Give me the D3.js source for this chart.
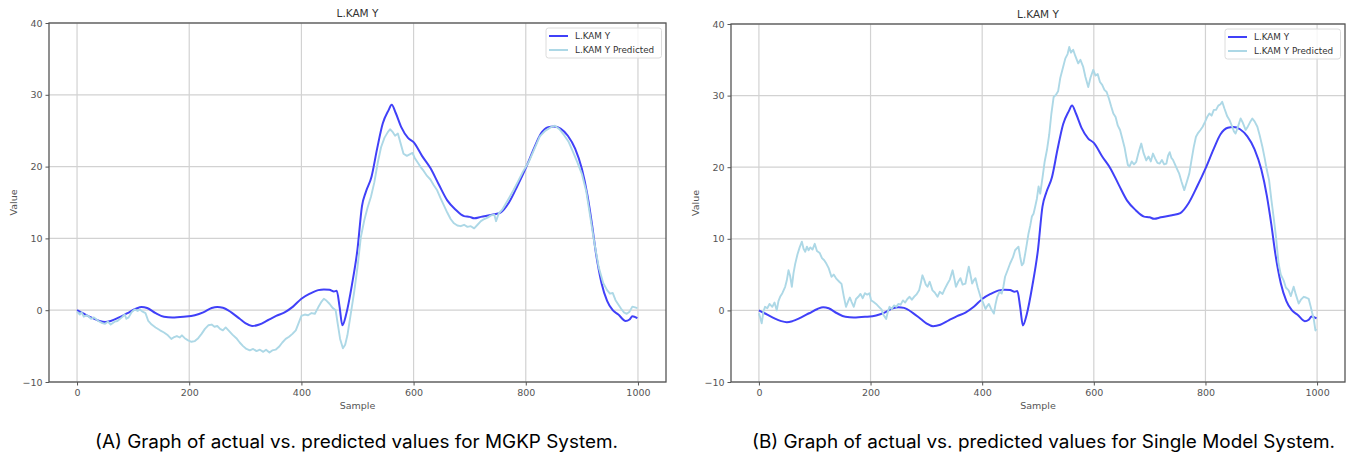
<!DOCTYPE html>
<html><head><meta charset="utf-8">
<script src="https://cdn.jsdelivr.net/npm/d3@7"></script>
<style>
html,body{margin:0;padding:0;background:#fff;}
svg{display:block;}
</style></head>
<body>
<svg id="chart" width="1350" height="455"></svg>
<script>
// ---------- DATA ----------
const chartTitle = "L.KAM Y";
const seriesNames = ["L.KAM Y", "L.KAM Y Predicted"];
const captions = [
  "(A) Graph of actual vs. predicted values for MGKP System.",
  "(B) Graph of actual vs. predicted values for Single Model System."
];
const xTicks = [0, 200, 400, 600, 800, 1000];
const yTicks = [-10, 0, 10, 20, 30, 40];

// actual series (same in both panels)
const actualX = [0,10,25,40,50,60,75,90,105,115,125,140,155,170,190,210,225,240,250,260,275,290,300,312,325,340,355,370,385,400,415,430,440,450,458,463,468,473,480,490,500,508,515,525,535,545,555,561,568,578,590,600,615,630,645,660,675,690,700,708,720,740,755,770,785,800,815,827,840,850,862,875,888,900,910,918,925,935,945,955,965,978,985,990,999];
const actualY = [0,-0.4,-1.0,-1.5,-1.65,-1.5,-1.0,-0.4,0.2,0.45,0.3,-0.4,-0.9,-1.0,-0.9,-0.7,-0.3,0.3,0.45,0.35,-0.3,-1.2,-1.8,-2.2,-2.0,-1.4,-0.8,-0.3,0.5,1.6,2.3,2.8,2.9,2.85,2.6,2.7,0.5,-2.1,-0.5,3.5,8.5,14.5,16.5,18.6,22.5,26,27.8,28.6,27.5,25.5,24.0,23.4,21.5,19.8,17.5,15.3,14.0,13.1,13.0,12.8,13.0,13.3,13.6,15.0,17.3,19.8,22.6,24.6,25.5,25.6,25.3,24.3,22.5,19.7,16,12,8,3.8,1.3,0,-0.6,-1.5,-1.3,-0.85,-1.1];

// predicted, MGKP system (panel A)
const predAX = [0,5,8,12,18,25,30,38,45,50,55,60,67,72,80,85,88,92,98,103,108,112,117,122,127,133,140,148,155,162,168,172,178,183,187,192,198,204,210,216,222,228,234,240,245,250,255,260,265,270,277,284,290,296,302,308,314,320,326,332,337,343,348,354,360,366,372,378,384,390,395,400,406,412,418,424,430,436,440,445,450,456,461,465,469,474,478,482,488,494,500,506,512,518,524,530,536,542,548,554,558,563,567,572,577,582,588,593,598,602,607,612,618,624,630,636,642,648,654,660,666,672,678,684,690,696,702,708,714,720,726,732,738,744,747,752,758,764,770,778,786,795,805,815,825,835,845,852,860,868,876,884,892,900,908,915,922,930,938,945,950,955,960,965,970,975,980,985,990,995,999];
const predAY = [-0.2,-0.6,-0.3,-0.9,-0.7,-1.2,-1.0,-1.5,-1.8,-1.9,-1.6,-2.0,-1.6,-1.5,-1.0,-0.6,-1.2,-1.0,-0.2,0.1,-0.1,0.1,-0.2,-0.4,-1.5,-2.0,-2.4,-2.8,-3.1,-3.5,-4.0,-3.8,-3.6,-3.8,-3.5,-3.9,-4.2,-4.4,-4.3,-3.9,-3.3,-2.6,-2.1,-2.0,-2.3,-2.2,-2.6,-2.8,-2.4,-2.8,-3.4,-3.9,-4.5,-5.0,-5.4,-5.6,-5.4,-5.7,-5.5,-5.8,-5.5,-5.9,-5.6,-5.5,-5.1,-4.5,-4.0,-3.7,-3.3,-2.8,-1.8,-0.8,-0.6,-0.7,-0.4,-0.5,0.4,1.2,1.6,1.3,0.9,0.3,0.0,-2.0,-4.0,-5.3,-4.8,-3.5,-0.5,2.5,6,10.2,12.5,14.3,15.8,17.8,20.5,22.7,24.0,24.8,25.2,24.8,24.3,24.6,23.2,21.8,21.5,21.7,21.9,21.2,20.6,20.0,19.4,18.7,18.2,17.4,16.7,15.6,14.6,13.6,12.7,12.1,11.8,11.7,11.9,11.6,11.7,11.4,11.9,12.4,12.7,12.9,13.2,13.3,12.4,13.5,14.0,14.8,15.6,16.7,17.9,19.3,20.6,22.4,24.2,25.0,25.5,25.7,25.2,24.4,23.5,22.1,20.6,19.0,16.5,13.0,9.5,6.0,3.8,2.8,2.3,2.4,1.4,0.8,0.2,-0.3,-0.5,-0.2,0.5,0.4,0.3];

// predicted, Single Model system (panel B)
const predBX = [0,3,5,8,11,15,19,24,28,32,35,38,42,47,50,53,56,59,62,65,69,73,77,80,83,86,89,92,96,100,104,109,113,117,121,125,130,134,139,144,148,152,156,160,163,166,170,174,178,182,186,190,194,198,201,205,210,215,220,223,228,231,234,238,242,246,250,254,258,262,266,270,274,278,282,287,290,293,296,299,302,306,311,315,320,324,329,333,338,342,347,350,353,357,361,365,370,373,376,379,382,385,388,392,397,402,406,409,412,416,421,424,427,431,435,438,441,445,450,455,459,465,468,471,474,477,480,483,486,489,492,495,498,501,504,508,512,516,520,524,528,532,536,540,545,549,553,556,559,563,567,572,576,581,585,590,594,599,603,607,611,615,619,623,627,631,635,639,643,647,651,655,658,661,664,668,672,676,680,685,689,694,698,702,706,710,714,718,722,726,730,733,736,739,742,746,750,753,757,762,766,771,775,779,783,787,791,795,799,803,807,811,815,819,823,827,830,834,839,843,848,851,854,858,863,867,872,876,880,884,888,893,897,902,906,910,914,918,922,926,931,935,940,944,949,953,958,962,967,971,976,980,985,988,991,994,997,999];
const predBY = [-0.4,-1.2,-1.8,-0.2,0.5,0.3,0.9,0.5,1.1,0.0,1.3,1.9,2.4,3.3,4.2,5.6,4.8,3.3,5.2,6.5,7.8,8.8,9.6,8.6,8.2,8.9,8.4,8.8,8.5,9.3,8.3,8.0,7.3,7.0,6.5,5.9,4.7,5.0,4.4,4.0,3.7,2.0,0.5,1.3,1.8,1.2,0.5,1.6,1.9,2.3,1.7,2.4,2.2,2.4,1.4,1.2,0.9,0.5,0.1,-0.6,-1.2,-0.2,0.5,0.2,0.7,0.5,0.9,0.8,1.4,1.1,1.6,1.9,1.5,1.9,2.2,2.8,3.8,4.9,4.3,3.6,3.3,4.0,2.8,2.5,1.9,2.6,2.3,3.0,3.75,4.3,5.6,4.5,3.3,4.0,4.5,3.6,3.75,5.0,6.1,5.0,3.75,4.2,4.5,3.2,1.9,1.0,0.2,0.6,0.9,0.2,-0.45,0.9,1.9,2.6,2.35,3.3,4.7,5.5,6.55,7.4,8.4,8.9,7.5,6.3,6.6,7.9,9.3,10.75,11.8,13.1,13.5,14.5,15.6,17.3,16.3,18.5,20.8,22.4,24.5,27.5,29.8,30.1,30.6,32.5,34.0,35.2,35.8,36.8,36.0,36.4,35.5,34.5,35.0,34.0,32.6,31.2,32.5,33.6,32.8,33.0,31.9,31.5,30.8,30.5,29.6,28.5,27.5,27.0,25.8,25.2,24.0,22.8,21.5,20.3,20.1,20.8,20.4,20.75,22.0,23.3,22.0,20.95,21.5,20.8,21.9,21.2,20.6,20.5,21.0,20.4,20.5,21.6,22.1,21.3,21.0,20.3,19.6,19.1,18.0,16.8,17.8,19.1,21.0,22.8,24.25,24.8,25.2,25.65,26.3,27.0,27.5,27.2,28.0,28.0,28.6,28.8,29.15,28.2,27.1,26.6,25.65,25.0,24.7,25.6,26.8,26.2,25.2,25.7,26.3,26.8,26.4,25.65,24.5,22.85,21.3,19.6,18.2,15.5,13.1,10.5,6.55,5.0,4.2,3.2,2.8,2.0,3.3,2.2,0.96,1.5,1.9,1.8,1.6,0.7,-0.3,-1.2,-2.8,-2.6];

// ---------- DRAW ----------
const svg = d3.select("#chart");
const FONT = "DejaVu Sans, sans-serif";

const panels = [
  {left: 49, right: 666, top: 23, bottom: 382, px: predAX, py: predAY, caption: captions[0], capX: 356.5, capW: 523, valueX: 14},
  {left: 731, right: 1345, top: 24, bottom: 382, px: predBX, py: predBY, caption: captions[1], capX: 1043.5, capW: 583, valueX: 696}
];

panels.forEach(p => {
  const g = svg.append("g");
  const x = d3.scaleLinear().domain([-50, 1050]).range([p.left, p.right]);
  const y = d3.scaleLinear().domain([-10, 40]).range([p.bottom, p.top]);

  // grid
  g.append("g").selectAll("line.vx").data(xTicks).join("line")
    .attr("x1", d => x(d)).attr("x2", d => x(d)).attr("y1", p.top).attr("y2", p.bottom)
    .attr("stroke", "#d2d2d2").attr("stroke-width", 1.2);
  g.append("g").selectAll("line.hy").data(yTicks).join("line")
    .attr("y1", d => y(d)).attr("y2", d => y(d)).attr("x1", p.left).attr("x2", p.right)
    .attr("stroke", "#d2d2d2").attr("stroke-width", 1.2);

  // axes
  const xAxis = d3.axisBottom(x).tickValues(xTicks).tickSize(3.5).tickPadding(4).tickFormat(d3.format("d"));
  const yAxis = d3.axisLeft(y).tickValues(yTicks).tickSize(3.5).tickPadding(3)
    .tickFormat(d => d < 0 ? "\u2212" + Math.abs(d) : d);
  const gx = g.append("g").attr("transform", `translate(0,${p.bottom})`).call(xAxis);
  const gy = g.append("g").attr("transform", `translate(${p.left},0)`).call(yAxis);
  [gx, gy].forEach(a => {
    a.select(".domain").remove();
    a.selectAll(".tick line").attr("stroke", "#555").attr("stroke-width", 1);
    a.selectAll(".tick text").attr("fill", "#555").style("font-family", FONT).style("font-size", "9.5px");
  });

  // lines
  const clipId = "clip" + p.left;
  svg.append("clipPath").attr("id", clipId).append("rect")
    .attr("x", p.left).attr("y", p.top).attr("width", p.right - p.left).attr("height", p.bottom - p.top);
  const line = d3.line().x(d => x(d[0])).y(d => y(d[1])).curve(d3.curveLinear);
  const smooth = d3.line().x(d => x(d[0])).y(d => y(d[1])).curve(d3.curveMonotoneX);
  const predPts = p.px.map((v, i) => [v, p.py[i]]);
  const actPts = actualX.map((v, i) => [v, actualY[i]]);
  g.append("path").attr("clip-path", `url(#${clipId})`).datum(actPts).attr("d", smooth)
    .attr("fill", "none").attr("stroke", "#4040f8").attr("stroke-width", 2).attr("stroke-linejoin", "round");
  g.append("path").attr("clip-path", `url(#${clipId})`).datum(predPts).attr("d", line)
    .attr("fill", "none").attr("stroke", "#add8e6").attr("stroke-width", 1.9).attr("stroke-linejoin", "round");

  // frame
  g.append("rect").attr("x", p.left).attr("y", p.top).attr("width", p.right - p.left).attr("height", p.bottom - p.top)
    .attr("fill", "none").attr("stroke", "#555").attr("stroke-width", 1.3);

  // title
  g.append("text").attr("x", (p.left + p.right) / 2).attr("y", p.top - 6).attr("text-anchor", "middle")
    .style("font-family", FONT).style("font-size", "10.5px").attr("fill", "#333").text(chartTitle);
  // axis labels
  g.append("text").attr("x", (p.left + p.right) / 2).attr("y", p.bottom + 27).attr("text-anchor", "middle")
    .style("font-family", FONT).style("font-size", "9.5px").attr("fill", "#555").text("Sample");
  g.append("text").attr("transform", `translate(${p.valueX},${(p.top + p.bottom) / 2}) rotate(-90)`)
    .attr("text-anchor", "middle").attr("dy", "0.35em")
    .style("font-family", FONT).style("font-size", "9.5px").attr("fill", "#555").text("Value");

  // legend
  const lx = p.right - 120, ly = p.top + 5;
  const lg = g.append("g");
  lg.append("rect").attr("x", lx).attr("y", ly).attr("width", 115.5).attr("height", 30).attr("rx", 2.5)
    .attr("fill", "#fff").attr("fill-opacity", 0.8).attr("stroke", "#dcdcdc").attr("stroke-width", 1);
  const cols = ["#4040f8", "#add8e6"];
  seriesNames.forEach((nm, i) => {
    const yy = ly + 8 + i * 14;
    lg.append("line").attr("x1", lx + 3).attr("x2", lx + 22).attr("y1", yy).attr("y2", yy)
      .attr("stroke", cols[i]).attr("stroke-width", 2);
    lg.append("text").attr("x", lx + 29).attr("y", yy).attr("dy", "0.35em")
      .style("font-family", FONT).style("font-size", "8.8px").attr("fill", "#333").text(nm);
  });

  // caption
  svg.append("text").attr("x", p.capX).attr("y", 448).attr("text-anchor", "middle")
    .style("font-family", "Inter, 'Open Sans', sans-serif").style("font-size", "18px").attr("fill", "#000")
    .attr("textLength", p.capW).attr("lengthAdjust", "spacingAndGlyphs").text(p.caption);
});
</script>
</body></html>
